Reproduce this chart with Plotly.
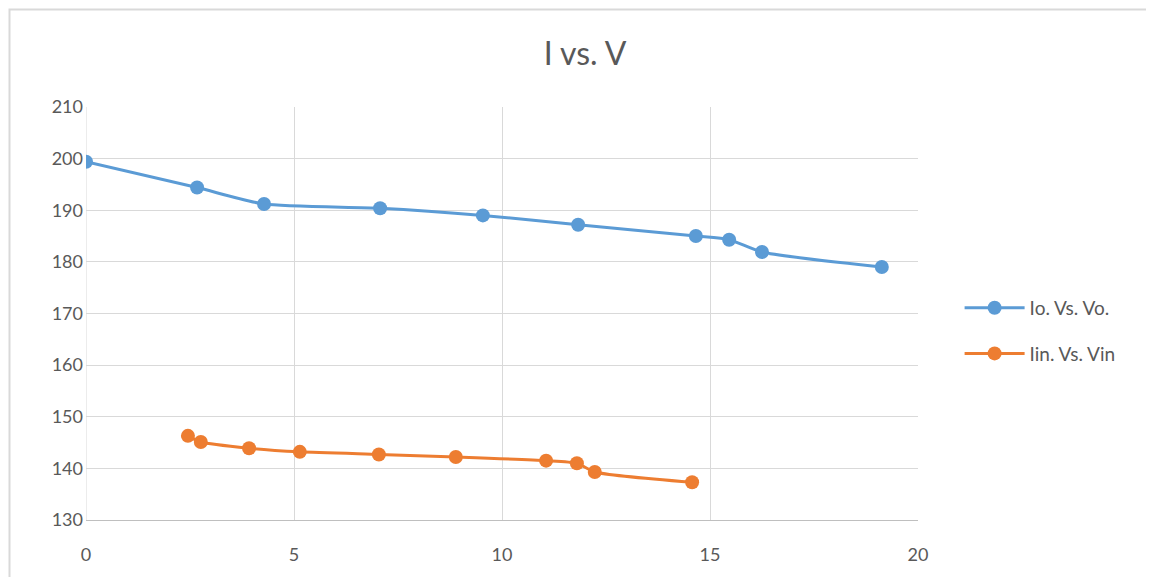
import plotly.graph_objects as go

vo = [0.0, 2.67, 4.28, 7.07, 9.54, 11.83, 14.66, 15.46, 16.25, 19.13]
io = [199.4, 194.4, 191.2, 190.4, 189.0, 187.2, 185.0, 184.3, 181.9, 179.0]
vin = [2.45, 2.76, 3.92, 5.14, 7.04, 8.89, 11.06, 11.8, 12.23, 14.57]
iin = [146.3, 145.1, 143.9, 143.2, 142.7, 142.2, 141.5, 141.0, 139.3, 137.3]

fig = go.Figure()
fig.add_trace(go.Scatter(x=vo, y=io, mode="lines+markers", name="Io. Vs. Vo.",
                         legendgroup="a",
                         line=dict(color="#5B9BD5", width=3, shape="spline", smoothing=0.6),
                         marker=dict(size=14, color="#5B9BD5")))
fig.add_trace(go.Scatter(x=vin, y=iin, mode="lines+markers", name="Iin. Vs. Vin",
                         legendgroup="b",
                         line=dict(color="#ED7D31", width=3, shape="spline", smoothing=0.6),
                         marker=dict(size=14, color="#ED7D31")))

fig.update_layout(
    width=1154, height=577,
    margin=dict(l=78, r=244, t=99, b=65),
    paper_bgcolor="white", plot_bgcolor="white",
    font=dict(family="Lato, Open Sans, sans-serif", color="#595959", size=18),
    title=dict(text="I vs. V", x=0.5, xref="container", y=0.92, yanchor="middle",
               xanchor="center", font=dict(size=32, color="#595959")),
    legend=dict(x=1.05, y=0.458, xanchor="left", yanchor="middle",
                font=dict(size=19, color="#595959"), itemwidth=60,
                tracegroupgap=18),
    showlegend=True,
)
fig.update_xaxes(range=[0, 20], dtick=5, showgrid=True, gridcolor="#D9D9D9", gridwidth=1,
                 zeroline=False, showline=True, linecolor="#BFBFBF", linewidth=1,
                 ticks="", ticklabelstandoff=18)
fig.update_yaxes(range=[130, 210], dtick=10, showgrid=True, gridcolor="#D9D9D9", gridwidth=1,
                 zeroline=False, showline=False, ticks="", ticklabelstandoff=2)
fig.add_vline(x=0, line=dict(color="#D9D9D9", width=1), layer="below")
fig.add_shape(type="rect", xref="paper", yref="paper",
              x0=-76.5/832, x1=1.6, y0=-0.5, y1=1 + 97.5/413,
              line=dict(color="#D9D9D9", width=2), fillcolor="rgba(0,0,0,0)")

fig.write_html("out.html")
